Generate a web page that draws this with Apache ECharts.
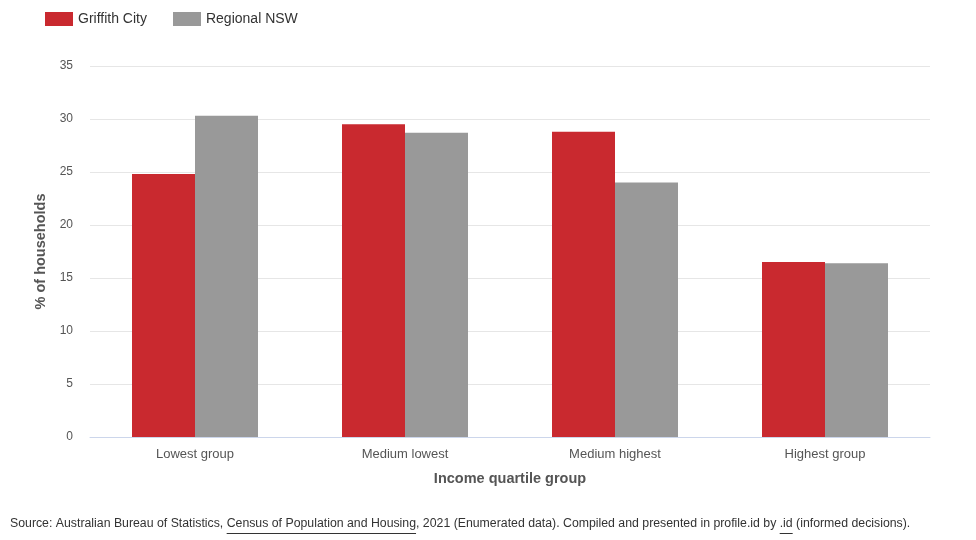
<!DOCTYPE html>
<html>
<head>
<meta charset="utf-8">
<script src="https://cdn.jsdelivr.net/npm/echarts@6/dist/echarts.min.js"></script>
<style>
  html, body { margin: 0; padding: 0; background: #fff; }
  #chart { width: 976px; height: 540px; }
</style>
</head>
<body>
<div id="chart"></div>
<script>
// Household income quartiles, Griffith City vs Regional NSW (% of households)
const categories = ['Lowest group', 'Medium lowest', 'Medium highest', 'Highest group'];
const griffithCity = [24.8, 29.5, 28.8, 16.5];
const regionalNSW = [30.3, 28.7, 24.0, 16.4];
const yTicks = { min: 0, max: 35, interval: 5 };

const FONT = 'Arial, "Liberation Sans", sans-serif';
const chart = echarts.init(document.getElementById('chart'));

// Source note, with the two linked phrases underlined
const sourceParts = [
  'Source: Australian Bureau of Statistics, ',
  'Census of Population and Housing',
  ', 2021 (Enumerated data). Compiled and presented in profile.id by ',
  '.id',
  ' (informed decisions).'
];
const sourceFont = '12.3px ' + FONT;
const sourceX = 10, sourceY = 518, underlineY = 533.5;
const ctx = document.createElement('canvas').getContext('2d');
ctx.font = sourceFont;
const underlines = [];
let cursor = sourceX;
sourceParts.forEach((part, i) => {
  const w = ctx.measureText(part).width;
  if (i === 1 || i === 3) {
    underlines.push({
      type: 'line',
      shape: { x1: cursor, y1: underlineY, x2: cursor + w, y2: underlineY },
      style: { stroke: '#333', lineWidth: 1 }
    });
  }
  cursor += w;
});

chart.setOption({
  animation: false,
  textStyle: { fontFamily: FONT },
  legend: {
    left: 40, top: 7,
    itemWidth: 28, itemHeight: 14, itemGap: 26,
    icon: 'rect',
    textStyle: { fontSize: 14, color: '#333', fontFamily: FONT },
    data: ['Griffith City', 'Regional NSW']
  },
  grid: { left: 90, right: 46, top: 66, bottom: 103 },
  xAxis: {
    type: 'category',
    data: categories,
    name: 'Income quartile group',
    nameLocation: 'middle',
    nameGap: 34,
    nameTextStyle: { fontSize: 14.5, fontWeight: 'bold', color: '#555' },
    axisLine: { lineStyle: { color: '#ccd6eb' } },
    axisTick: { show: false },
    axisLabel: { fontSize: 13, color: '#555', margin: 11 }
  },
  yAxis: {
    type: 'value',
    min: yTicks.min, max: yTicks.max, interval: yTicks.interval,
    name: '% of households',
    nameLocation: 'middle',
    nameGap: 40,
    nameTextStyle: { fontSize: 14.5, fontWeight: 'bold', color: '#555' },
    axisLine: { show: false },
    axisTick: { show: false },
    axisLabel: { fontSize: 12, color: '#555', margin: 17 },
    splitLine: { lineStyle: { color: '#e6e6e6' } }
  },
  series: [
    {
      name: 'Griffith City', type: 'bar', data: griffithCity,
      barWidth: 63, barGap: '0%',
      itemStyle: { color: '#c9292f' }
    },
    {
      name: 'Regional NSW', type: 'bar', data: regionalNSW,
      barWidth: 63,
      itemStyle: { color: '#999999' }
    }
  ],
  graphic: [
    {
      type: 'text', left: sourceX, top: sourceY,
      style: { text: sourceParts.join(''), font: sourceFont, fill: '#333' }
    }
  ].concat(underlines)
});
</script>
</body>
</html>
